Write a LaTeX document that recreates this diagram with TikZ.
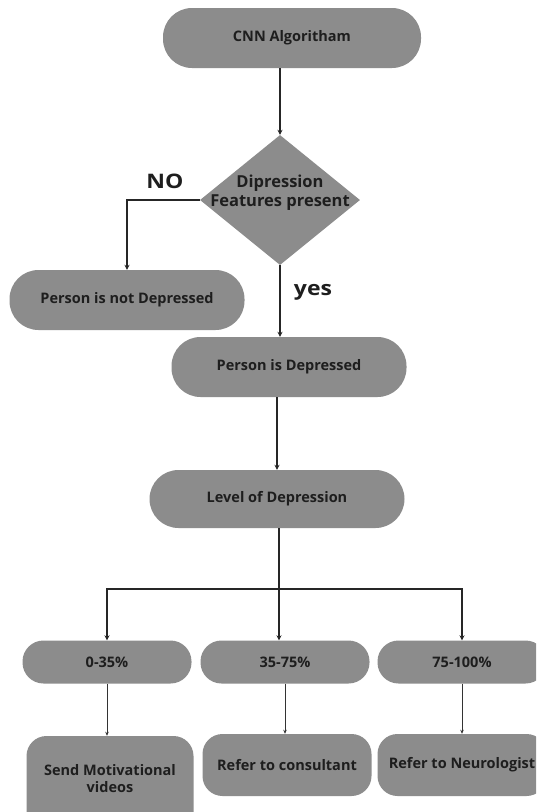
\documentclass[tikz,border=0pt]{standalone}
\usepackage{fontspec}
\setmainfont{Open Sans}
\newfontfamily\widefont[FakeStretch=1.15]{Open Sans}
\usetikzlibrary{shapes.geometric,arrows.meta}
\definecolor{boxgray}{RGB}{140,140,140}
\definecolor{txt}{RGB}{30,30,30}
\begin{document}
\begin{tikzpicture}[x=1pt,y=-1pt,
  pill/.style={fill=boxgray, rounded corners=29pt, text=txt, align=center, inner sep=0pt,
    font=\bfseries\fontsize{14.5}{17}\selectfont},
  smallpill/.style={pill, rounded corners=21pt, minimum width=169pt, minimum height=43pt},
  actbox/.style={pill, rounded corners=20pt, minimum width=169pt, minimum height=62pt},
  decision/.style={diamond, fill=boxgray, text=txt, align=center, inner xsep=-25pt, inner ysep=-15pt,
    aspect=1.23, minimum width=160pt, minimum height=130pt, font=\bfseries\fontsize{16.5}{19}\selectfont},
  lbl/.style={text=txt, font=\widefont\bfseries\fontsize{20}{24}\selectfont},
  main/.style={draw=black!85, line width=1.7pt, -{Stealth[length=5pt,width=5pt]}},
  thin/.style={draw=black!80, line width=0.7pt, -{Stealth[length=4pt,width=3.5pt]}},
  trunk/.style={draw=black!85, line width=1.7pt}]
\clip (0,0) rectangle (536,812);
\fill[white] (0,0) rectangle (536,812);

\node[pill, minimum width=258pt, minimum height=60pt] (cnn) at (292,38) {CNN Algoritham};
\node[decision, text depth=18pt] (dia) at (280,200) {Dipression\\Features present};
\node[pill, minimum width=235pt, minimum height=60pt] (notdep) at (127,300) {Person is not Depressed};
\node[pill, minimum width=235pt, minimum height=60pt] (dep) at (289,367) {Person is Depressed};
\node[pill, minimum width=255pt, minimum height=58pt] (level) at (277,499) {Level of Depression};

\node[smallpill] (r1) at (107,662) {0-35\%};
\node[smallpill] (r2) at (285,662) {35-75\%};
\node[smallpill] (r3) at (462,662) {75-100\%};

\node[pill, rounded corners=20pt, minimum width=167pt, minimum height=100pt, text depth=16pt] (a1) at (110,786) {Send Motivational\\videos};
\node[actbox] (a2) at (287,765) {Refer to consultant};
\node[actbox] (a3) at (462,765) {Refer to Neurologist};

\node[lbl] (no) at (165,181) {NO};
\node[lbl] (yes) at (313,292) {yes};

\coordinate (br) at (279,589);

\draw[main] (cnn.south -| dia.north) -- (dia.north);
\draw[main] (dia.west) -| (notdep.north);
\draw[main] (dia.south) -- (dia.south |- dep.north);
\draw[main] (dep.south -| level.north) -- (level.north);
\draw[trunk] (level.south -| br) -- (br);
\draw[main] (br) -| (r1.north);
\draw[main] (br) -- (r2.north -| br);
\draw[main] (br) -| (r3.north);
\draw[thin] (r1.south) -- (r1.south |- a1.north);
\draw[thin] (r2.south) -- (r2.south |- a2.north);
\draw[thin] (r3.south) -- (r3.south |- a3.north);
\end{tikzpicture}
\end{document}
